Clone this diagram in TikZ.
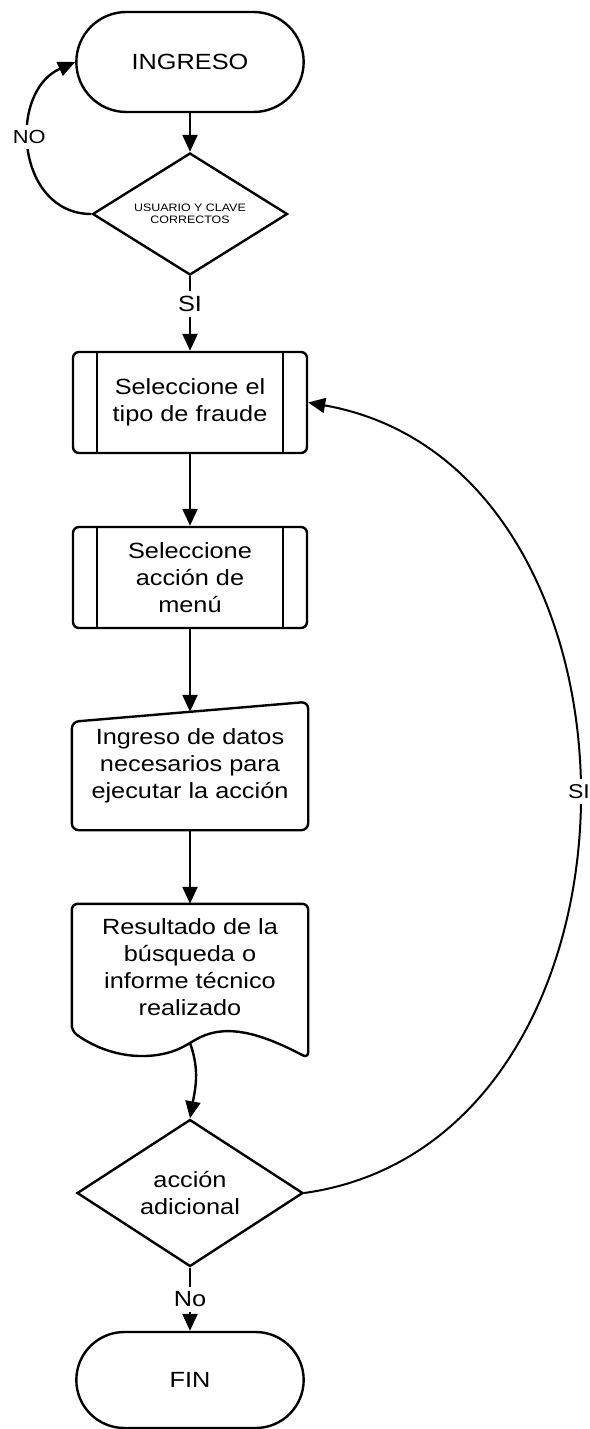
\documentclass[tikz,border=0pt]{standalone}
\usepackage{fontspec}
\setmainfont{Liberation Sans}[FakeStretch=1.15]
\usetikzlibrary{shapes.geometric,shapes.misc,arrows.meta}

\begin{document}
\begin{tikzpicture}[
    x = 1pt, y = 1pt,
    line width = 2.4pt,
    every node/.style = {font = \fontsize{22}{27}\selectfont, align = center},
    arr/.style = {-{Triangle[length=17pt, width=15pt]}},
    terminal/.style = {draw, rounded rectangle, minimum width = 234pt, minimum height = 100pt},
    decision/.style = {draw, diamond, inner sep = 0pt, minimum width = 195pt, minimum height = 122pt, aspect = 1.6},
    subproc/.style = {draw, rectangle, rounded corners = 6pt, minimum width = 234pt, minimum height = 101pt,
        path picture = {\draw[line width = 2.4pt]
            ([xshift=24pt]path picture bounding box.north west) -- ([xshift=24pt]path picture bounding box.south west)
            ([xshift=-24pt]path picture bounding box.north east) -- ([xshift=-24pt]path picture bounding box.south east);}},
    nobox/.style = {rectangle, minimum width = 234pt, inner sep = 0pt},
    lbl/.style = {fill = white, inner sep = 5pt}]

\useasboundingbox (0,0) rectangle (589,-1429);

\node[terminal] (start) at (190,-62) {INGRESO};
\node[decision, font = \fontsize{10.8}{12.5}\selectfont] (check) at (190,-214) {USUARIO Y CLAVE\\CORRECTOS};
\node[subproc] (tipo) at (190,-402.5) {Seleccione el\\tipo de fraude};
\node[subproc] (menu) at (190,-577.5) {Seleccione\\acción de\\menú};
\node[nobox, minimum height = 126pt] (datos) at (190,-766) {Ingreso de datos\\necesarios para\\ejecutar la acción};
\node[nobox, minimum height = 125pt] (result) at (190,-967.5) {Resultado de la\\búsqueda o\\informe técnico\\realizado};
\node[decision, minimum width = 226pt, minimum height = 147pt, aspect = 1.54] (extra) at (190,-1193) {acción\\adicional};
\node[terminal, minimum height = 96pt] (fin) at (190,-1380) {FIN};
\coordinate (wave) at (190,-1043);

\draw[rounded corners = 7pt] (datos.south west) -- ([yshift=-20pt]datos.north west) -- (datos.north east) -- (datos.south east) -- cycle;
\draw[rounded corners = 6pt] (result.south west) -- (result.north west) -- (result.north east) -- ([yshift=-27pt]result.south east)
    .. controls (255,-1030) and (222,-1024) .. (wave)
    .. controls (160,-1060) and (115,-1062) .. cycle;

\draw[arr] (start.south) -- (check.north);
\draw[arr] (check.west) to[out=180, in=204, looseness=1.25]
    node[lbl, pos=0.56, font = \fontsize{19}{23}\selectfont] (no) {NO} (start.west);
\draw[arr] (check.south) -- node[lbl, pos=0.37] (si) {SI} (tipo.north);
\draw[arr] (tipo.south) -- (menu.north);
\draw[arr] (menu.south) -- ([yshift=-10pt]datos.north);
\draw[arr] (datos.south) -- (result.north);
\draw[arr] (wave) to[out=-70, in=80] (extra.north);
\draw[arr] (extra.south) -- node[lbl] (no2) {No} (fin.north);
\draw[arr, line width = 2pt] (extra.east) to[out=8, in=-10, looseness=1.19]
    node[lbl, pos=0.51, font = \fontsize{20}{24}\selectfont] (si2) {SI} (tipo.east);
\end{tikzpicture}
\end{document}
